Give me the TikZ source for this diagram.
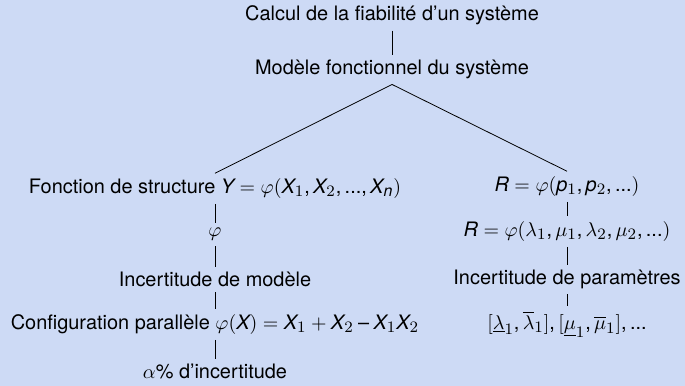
\documentclass[tikz,border=0pt]{standalone}
\usepackage{amsmath}
\usepackage{fontspec}
\setmainfont{TeX Gyre Heros}
\usepackage[italic]{mathastext}
\usepackage{xcolor}
\usetikzlibrary{positioning}
\definecolor{fond}{RGB}{205,218,245}

\begin{document}
\begin{tikzpicture}[on grid, node distance=22.5bp, every node/.style={inner sep=2.5pt}]
    \useasboundingbox[fill=fond] (0,0) rectangle (342.5bp,-193bp);
    \node (calcul) at (196bp,-7.8bp) {Calcul de la fiabilité d'un système};
    \node [below = 27bp of calcul](modele){Modèle fonctionnel du système};
    \node [below left = 59.5bp and 88.5bp of modele](fonction){Fonction de structure $Y=\varphi(X_1,X_2,...,X_n)$};
    \node [below = 23bp of fonction](phi){$\varphi$};
    \node [below = of phi](incmod){Incertitude de modèle};
    \node [below = of incmod](config){Configuration parallèle $\varphi(X)=X_1+X_2-X_1X_2$};
    \node [below = 23.5bp of config](alpha){$\alpha\%$ d'incertitude};
    \node [below right = 58.5bp and 87.5bp of modele](rp){$R=\varphi(p_1,p_2,...)$};
    \node [below = of rp](rl){$R=\varphi(\lambda_1,\mu_1,\lambda_2,\mu_2,...)$};
    \node [below = 24bp of rl](incpar){Incertitude de paramètres};
    \node [below = of incpar](bornes){$[\underline{\lambda}_1,\overline{\lambda}_1],[\underline{\mu}_1,\overline{\mu}_1],...$};
    \draw (calcul)--(modele);
    \draw (modele.south)--(fonction.north);
    \draw (modele.south)--(rp.north);
    \draw (fonction)--(phi)--(incmod)--(config)--(alpha);
    \draw (rp)--(rl)--(incpar)--(bornes);
\end{tikzpicture}
\end{document}
